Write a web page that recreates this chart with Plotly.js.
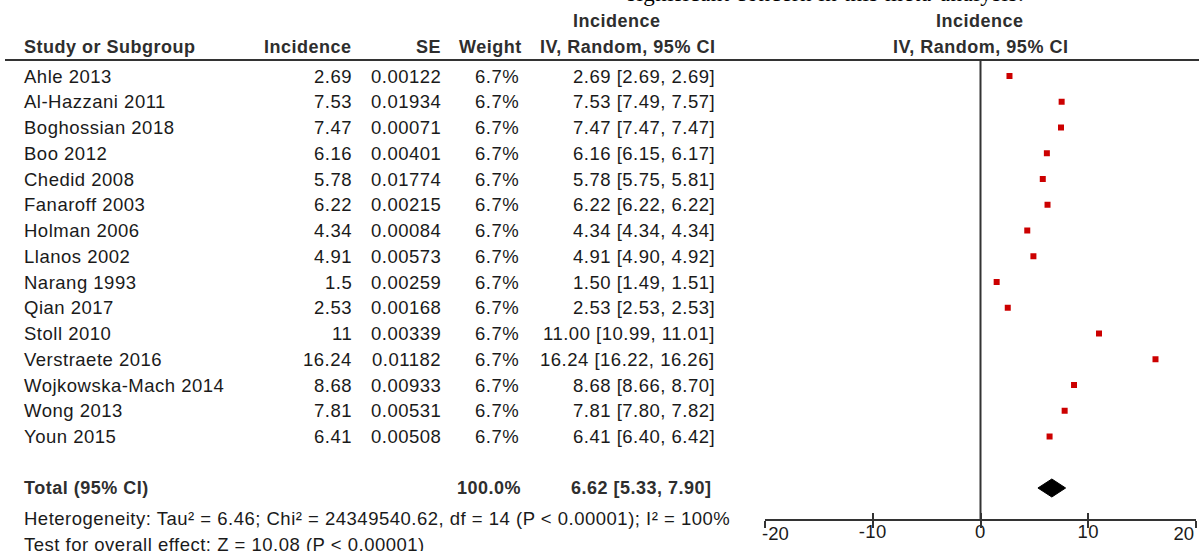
<!DOCTYPE html>
<html>
<head>
<meta charset="utf-8">
<script src="https://cdn.plot.ly/plotly-3.0.1.min.js"></script>
<style>
html,body{margin:0;padding:0;background:#fff;}
.annotation-text, .xtick text {letter-spacing: 0.5px;}
</style>
</head>
<body>
<div id="chart" style="width:1199px;height:551px;"></div>
<script>
// ---- data ----
const studies = ["Ahle 2013","Al-Hazzani 2011","Boghossian 2018","Boo 2012","Chedid 2008","Fanaroff 2003","Holman 2006","Llanos 2002","Narang 1993","Qian 2017","Stoll 2010","Verstraete 2016","Wojkowska-Mach 2014","Wong 2013","Youn 2015"];
const incidenceText = ["2.69","7.53","7.47","6.16","5.78","6.22","4.34","4.91","1.5","2.53","11","16.24","8.68","7.81","6.41"];
const incidence = [2.69,7.53,7.47,6.16,5.78,6.22,4.34,4.91,1.50,2.53,11.00,16.24,8.68,7.81,6.41];
const seText = ["0.00122","0.01934","0.00071","0.00401","0.01774","0.00215","0.00084","0.00573","0.00259","0.00168","0.00339","0.01182","0.00933","0.00531","0.00508"];
const weights = ["6.7%","6.7%","6.7%","6.7%","6.7%","6.7%","6.7%","6.7%","6.7%","6.7%","6.7%","6.7%","6.7%","6.7%","6.7%"];
const ciLow = [2.69,7.49,7.47,6.15,5.75,6.22,4.34,4.90,1.49,2.53,10.99,16.22,8.66,7.80,6.40];
const ciHigh = [2.69,7.57,7.47,6.17,5.81,6.22,4.34,4.92,1.51,2.53,11.01,16.26,8.70,7.82,6.42];
const totalEst = 6.62, totalLow = 5.33, totalHigh = 7.90, totalWeight = "100.0%";
const heterogeneity = "Heterogeneity: Tau² = 6.46; Chi² = 24349540.62, df = 14 (P < 0.00001); I² = 100%";
const overallTest = "Test for overall effect: Z = 10.08 (P < 0.00001)";
const xTicks = [-20,-10,0,10,20];
const innerTicks = [-10,0,10];

// ---- layout helpers ----
const W = 1199, H = 551;
const ROW0 = 76, STEP = 25.75;
const pv = p => (p - ROW0) / STEP;           // pixel y -> row units
const px = x => x / W;                        // pixel x -> paper
const rows = studies.map((_, i) => i);
const totalRow = 16;

const FONT = "Liberation Sans, Arial, sans-serif";
const bodyFont = {family: FONT, size: 18.5, color: "#1a1a1a"};
const boldFont = {family: FONT, size: 18, color: "#2e2e2e", weight: "bold"};

const ann = [];
function txt(text, xPix, yRow, anchor, font) {
  ann.push({text: text, x: px(xPix), xref: "paper", y: yRow, yref: "y",
    xanchor: anchor, yanchor: "middle", showarrow: false, font: font, borderpad: 0});
}
const f2 = v => v.toFixed(2);

// headers
txt("Study or Subgroup", 23, pv(47), "left", boldFont);
txt("Incidence", 353, pv(47), "right", boldFont);
txt("SE", 442, pv(47), "right", boldFont);
txt("Weight", 523, pv(47), "right", boldFont);
txt("IV, Random, 95% CI", 716, pv(47), "right", boldFont);
txt("Incidence", 617, pv(21), "center", boldFont);
txt("Incidence", 980, pv(21), "center", boldFont);
txt("IV, Random, 95% CI", 980, pv(47), "center", boldFont);

// rows
rows.forEach(i => {
  txt(studies[i], 23, i, "left", bodyFont);
  txt(incidenceText[i], 353, i, "right", bodyFont);
  txt(seText[i], 442, i, "right", bodyFont);
  txt(weights[i], 520, i, "right", bodyFont);
  txt(f2(incidence[i]) + " [" + f2(ciLow[i]) + ", " + f2(ciHigh[i]) + "]", 716, i, "right", bodyFont);
});

// total
txt("Total (95% CI)", 23, totalRow, "left", boldFont);
txt(totalWeight, 522, totalRow, "right", boldFont);
txt(f2(totalEst) + " [" + f2(totalLow) + ", " + f2(totalHigh) + "]", 713, totalRow, "right", boldFont);
txt(heterogeneity, 23, pv(518), "left", bodyFont);
txt(overallTest, 23, pv(544), "left", bodyFont);

// clipped text at very top
ann.push({text: "significant concern in this meta-analysis.", x: px(625), xref: "paper",
  y: 1 + 6 / H, yref: "paper", xanchor: "left", yanchor: "middle", showarrow: false,
  font: {family: "Liberation Serif, Times New Roman, serif", size: 23, color: "#000"}});

const hw = 0.35; // diamond half height in row units
const traces = [
  {type: "scatter", mode: "markers", x: incidence, y: rows,
   marker: {symbol: "square", size: 6, color: "#cc0000", line: {width: 0}},
   hoverinfo: "skip", showlegend: false},
  {type: "scatter", mode: "lines",
   x: [totalLow, totalEst, totalHigh, totalEst, totalLow],
   y: [totalRow, totalRow - hw, totalRow, totalRow + hw, totalRow],
   fill: "toself", fillcolor: "#000", line: {color: "#000", width: 1},
   hoverinfo: "skip", showlegend: false}
];

const axisRow = pv(520);
const xDomain = [px(765), px(1196)];
const axPos = 1 - 520 / H;
const tickFont = {family: FONT, size: 18.5, color: "#1a1a1a"};
const tickAxis = (dir) => ({domain: xDomain, range: [-20, 20], anchor: "free", position: axPos,
    overlaying: "x", showgrid: false, zeroline: false, showline: false,
    tickmode: "array", tickvals: xTicks, ticks: dir, ticklen: 7, tickwidth: 2,
    tickcolor: "#333", showticklabels: false, fixedrange: true});
const labelAxis = (vals, pos, shift) => ({domain: xDomain, range: [-20, 20], anchor: "free", position: axPos,
    overlaying: "x", showgrid: false, zeroline: false, showline: false,
    tickmode: "array", tickvals: vals, ticktext: vals.map(String), ticks: "",
    ticklabelposition: pos, ticklabelstandoff: 0, ticklabelshift: shift,
    tickfont: tickFont, fixedrange: true});
const layout = {
  width: W, height: H,
  margin: {l: 0, r: 0, t: 0, b: 0},
  paper_bgcolor: "#fff", plot_bgcolor: "rgba(0,0,0,0)",
  showlegend: false,
  xaxis: {domain: xDomain, range: [-20, 20], anchor: "free", position: axPos,
    showgrid: false, zeroline: false, showline: true, linecolor: "#333", linewidth: 2,
    tickmode: "array", tickvals: innerTicks, ticktext: innerTicks.map(String),
    ticks: "", ticklen: 0, ticklabelstandoff: -5,
    tickfont: tickFont, fixedrange: true},
  xaxis2: tickAxis("inside"),
  xaxis3: tickAxis("outside"),
  xaxis4: labelAxis([xTicks[0]], "outside right", -3),
  xaxis5: labelAxis([xTicks[xTicks.length - 1]], "outside left", -2),
  yaxis: {domain: [0, 1], range: [pv(H), pv(0)], visible: false, fixedrange: true},
  shapes: [
    {type: "line", xref: "paper", yref: "y", x0: px(5), x1: px(1199), y0: pv(60), y1: pv(60),
     line: {color: "#333", width: 2}},
    {type: "line", xref: "x", yref: "y", x0: 0, x1: 0, y0: pv(60), y1: axisRow,
     line: {color: "#333", width: 2}}
  ],
  annotations: ann
};

// invisible traces so the overlay axes are drawn
["x2", "x3", "x4", "x5"].forEach(ax => traces.push({type: "scatter", mode: "markers", x: [0], y: [totalRow],
  xaxis: ax, marker: {opacity: 0}, hoverinfo: "skip", showlegend: false}));

Plotly.newPlot("chart", traces, layout, {displayModeBar: false, staticPlot: true});
</script>
</body>
</html>
